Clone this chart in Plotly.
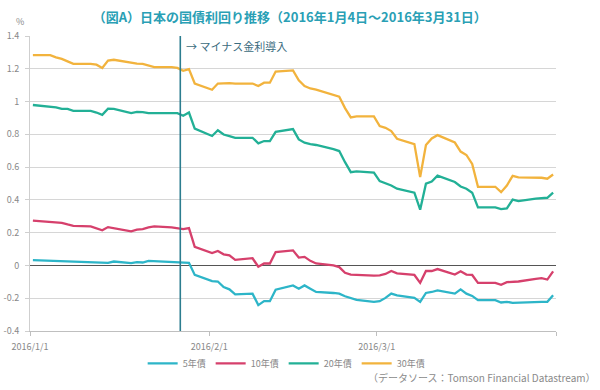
import plotly.graph_objects as go
import pandas as pd

dates = [
    "2016-01-01", "2016-01-04", "2016-01-05", "2016-01-06", "2016-01-07", "2016-01-08",
    "2016-01-11", "2016-01-12", "2016-01-13", "2016-01-14", "2016-01-15",
    "2016-01-18", "2016-01-19", "2016-01-20", "2016-01-21", "2016-01-22",
    "2016-01-25", "2016-01-26", "2016-01-27", "2016-01-28", "2016-01-29",
    "2016-02-01", "2016-02-02", "2016-02-03", "2016-02-04", "2016-02-05",
    "2016-02-08", "2016-02-09", "2016-02-10", "2016-02-11", "2016-02-12",
    "2016-02-15", "2016-02-16", "2016-02-17", "2016-02-18", "2016-02-19",
    "2016-02-22", "2016-02-23", "2016-02-24", "2016-02-25", "2016-02-26",
    "2016-02-29", "2016-03-01", "2016-03-02", "2016-03-03", "2016-03-04",
    "2016-03-07", "2016-03-08", "2016-03-09", "2016-03-10", "2016-03-11",
    "2016-03-14", "2016-03-15", "2016-03-16", "2016-03-17", "2016-03-18",
    "2016-03-21", "2016-03-22", "2016-03-23", "2016-03-24", "2016-03-25",
    "2016-03-28", "2016-03-29", "2016-03-30", "2016-03-31",
]

y5 = [0.032, 0.028, 0.026, 0.025, 0.023, 0.022, 0.018, 0.016, 0.014, 0.016, 0.024,
      0.014, 0.020, 0.018, 0.028, 0.026, 0.022, 0.018, 0.014, 0.016, -0.058,
      -0.096, -0.098, -0.132, -0.146, -0.176, -0.172, -0.242, -0.218, -0.218, -0.148,
      -0.122, -0.142, -0.122, -0.142, -0.162, -0.168, -0.172, -0.188, -0.198, -0.210,
      -0.222, -0.218, -0.198, -0.172, -0.182, -0.198, -0.222, -0.168, -0.162, -0.152,
      -0.172, -0.146, -0.172, -0.186, -0.212, -0.212, -0.226, -0.222, -0.228, -0.226,
      -0.222, -0.222, -0.222, -0.182]

y10 = [0.274, 0.268, 0.264, 0.260, 0.250, 0.242, 0.238, 0.228, 0.214, 0.234, 0.228,
       0.208, 0.218, 0.222, 0.232, 0.238, 0.232, 0.228, 0.222, 0.228, 0.113,
       0.075, 0.088, 0.068, 0.062, 0.034, 0.044, -0.008, 0.012, 0.012, 0.082,
       0.092, 0.048, 0.052, 0.028, 0.012, 0.000, -0.010, -0.045, -0.056, -0.058,
       -0.062, -0.060, -0.052, -0.034, -0.048, -0.058, -0.106, -0.034, -0.034, -0.022,
       -0.056, -0.036, -0.056, -0.058, -0.106, -0.106, -0.118, -0.102, -0.102, -0.098,
       -0.082, -0.078, -0.086, -0.036]

y20 = [0.979, 0.969, 0.965, 0.955, 0.955, 0.943, 0.943, 0.933, 0.919, 0.957, 0.955,
       0.929, 0.937, 0.935, 0.929, 0.929, 0.929, 0.929, 0.913, 0.933, 0.835,
       0.790, 0.825, 0.799, 0.789, 0.779, 0.779, 0.745, 0.759, 0.759, 0.815,
       0.832, 0.769, 0.749, 0.740, 0.735, 0.710, 0.698, 0.630, 0.569, 0.574,
       0.567, 0.515, 0.503, 0.488, 0.468, 0.444, 0.340, 0.499, 0.512, 0.548,
       0.509, 0.482, 0.468, 0.444, 0.354, 0.354, 0.344, 0.348, 0.402, 0.392,
       0.408, 0.410, 0.413, 0.444]

y30 = [1.283, 1.283, 1.270, 1.260, 1.245, 1.230, 1.230, 1.225, 1.205, 1.250, 1.255,
       1.235, 1.232, 1.230, 1.220, 1.210, 1.210, 1.205, 1.188, 1.198, 1.110,
       1.072, 1.110, 1.112, 1.112, 1.110, 1.110, 1.095, 1.115, 1.115, 1.183,
       1.190, 1.130, 1.095, 1.080, 1.073, 1.040, 1.030, 0.960, 0.903, 0.909,
       0.909, 0.850, 0.840, 0.820, 0.773, 0.740, 0.539, 0.735, 0.775, 0.795,
       0.750, 0.695, 0.674, 0.619, 0.480, 0.480, 0.447, 0.488, 0.547, 0.537,
       0.537, 0.535, 0.529, 0.555]

series_names = ["5年債", "10年債", "20年債", "30年債"]
series_values = [y5, y10, y20, y30]
series_colors = ["#2db5c8", "#d6406c", "#22b096", "#f2b33d"]

x_tick_labels = ["2016/1/1", "2016/2/1", "2016/3/1"]
y_tick_values = [1.4, 1.2, 1.0, 0.8, 0.6, 0.4, 0.2, 0.0, -0.2, -0.4]
y_tick_labels = ["1.4", "1.2", "1", "0.8", "0.6", "0.4", "0.2", "0", "-0.2", "-0.4"]

event_date = "2016-01-26 12:00"
event_label = "→ マイナス金利導入"
title_text = "（図A）日本の国債利回り推移（2016年1月4日～2016年3月31日）"
source_text = "（データソース：Tomson Financial Datastream）"

FONT = "Noto Sans CJK JP, Noto Sans, sans-serif"
half = pd.Timedelta(hours=12)
x_start = pd.Timestamp(dates[0]) - half
x_end = pd.Timestamp(dates[-1]) + half
tickvals = [pd.Timestamp(t.replace("/", "-")) - half for t in x_tick_labels] + [x_end]
ticktext = x_tick_labels + [""]

fig = go.Figure()
for name, vals, col in zip(series_names, series_values, series_colors):
    fig.add_trace(go.Scatter(x=pd.to_datetime(dates), y=vals, mode="lines", name=name,
                             line=dict(color=col, width=2.3)))

fig.add_shape(type="line", xref="x", yref="y", x0=event_date, x1=event_date,
              y0=-0.4, y1=1.4, line=dict(color="#2c7d8f", width=1.6))

fig.add_annotation(x=event_date, y=1.34, xref="x", yref="y", text=event_label,
                   showarrow=False, xanchor="left", yanchor="middle", xshift=4,
                   font=dict(family=FONT, size=11, color="#3b6c80"))

fig.add_annotation(x=-0.008, y=1.05, xref="paper", yref="paper", text="%",
                   showarrow=False, xanchor="right", yanchor="middle",
                   font=dict(family=FONT, size=9, color="#888888"))

fig.add_annotation(x=1.08, y=-0.158, xref="paper", yref="paper", text=source_text,
                   showarrow=False, xanchor="right", yanchor="middle",
                   font=dict(family=FONT, size=10, color="#8a8a8a"))

fig.update_layout(
    width=600, height=390,
    margin=dict(l=30, r=44, t=36, b=56),
    paper_bgcolor="white", plot_bgcolor="white",
    title=dict(text=title_text, x=0.483, xref="container", xanchor="center",
               y=0.956, yanchor="middle",
               font=dict(family=FONT, size=13, color="#2a9fb5", weight="bold")),
    showlegend=True,
    legend=dict(orientation="h", x=0.487, xanchor="center", y=-0.11, yanchor="middle",
                font=dict(family=FONT, size=9, color="#888888"), itemwidth=30,
                bgcolor="rgba(0,0,0,0)"),
    font=dict(family=FONT, size=9, color="#888888"),
)

fig.update_xaxes(type="date", range=[x_start, x_end], tickvals=tickvals, ticktext=ticktext,
                 showgrid=False, showline=True, linecolor="#bfbfbf", linewidth=1,
                 ticks="outside", ticklen=4, tickcolor="#bfbfbf", automargin=False,
                 ticklabelstandoff=3,
                 tickfont=dict(family=FONT, size=9, color="#888888"))

fig.update_yaxes(range=[-0.4, 1.4], tickvals=y_tick_values, ticktext=y_tick_labels,
                 showgrid=True, gridcolor="#d6d6d6", gridwidth=1,
                 zeroline=True, zerolinecolor="#555555", zerolinewidth=1,
                 showline=True, linecolor="#cfcfcf", linewidth=1,
                 ticks="outside", ticklen=4, tickcolor="#cfcfcf", automargin=False,
                 ticklabelstandoff=4,
                 tickfont=dict(family=FONT, size=9, color="#888888"))

fig.write_html("out.html", config={"displayModeBar": False},
               post_script="document.body.style.margin='0px';")
